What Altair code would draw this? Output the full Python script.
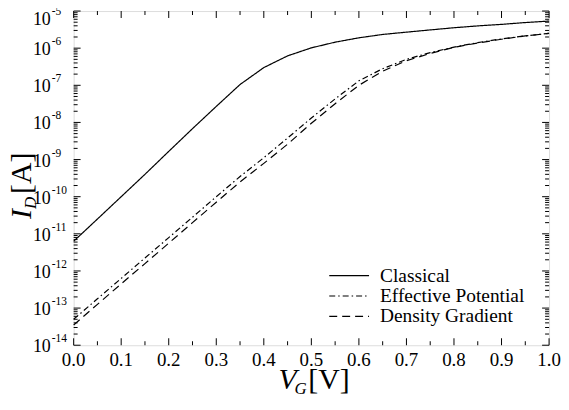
import altair as alt
import pandas as pd

# ---------------- data ----------------
V_G = [0.00, 0.05, 0.10, 0.15, 0.20, 0.25, 0.30, 0.35, 0.40, 0.45, 0.50,
       0.55, 0.60, 0.65, 0.70, 0.75, 0.80, 0.85, 0.90, 0.95, 1.00]

classical = [6.3e-12, 2.5e-11, 1.0e-10, 4.0e-10, 1.66e-9, 6.8e-9, 2.7e-8,
             1.05e-7, 3.0e-7, 6.2e-7, 1.02e-6, 1.45e-6, 1.9e-6, 2.34e-6,
             2.7e-6, 3.1e-6, 3.55e-6, 3.98e-6, 4.37e-6, 4.9e-6, 5.37e-6]

effective_potential = [5.0e-14, 1.78e-13, 6.3e-13, 2.24e-12, 7.9e-12, 2.8e-11,
                       1.0e-10, 3.5e-10, 1.12e-9, 3.8e-9, 1.32e-8, 4.3e-8,
                       1.32e-7, 2.8e-7, 5.0e-7, 7.6e-7, 1.07e-6, 1.41e-6,
                       1.78e-6, 2.14e-6, 2.5e-6]

density_gradient = [3.5e-14, 1.26e-13, 4.5e-13, 1.58e-12, 5.6e-12, 2.0e-11,
                    7.1e-11, 2.5e-10, 7.9e-10, 2.6e-9, 9.5e-9, 3.2e-8,
                    1.0e-7, 2.4e-7, 4.6e-7, 7.2e-7, 1.05e-6, 1.38e-6,
                    1.74e-6, 2.14e-6, 2.5e-6]

series_names = ["Classical", "Effective Potential", "Density Gradient"]

x_major = [0.0, 0.1, 0.2, 0.3, 0.4, 0.5, 0.6, 0.7, 0.8, 0.9, 1.0]
x_labels = ["0.0", "0.1", "0.2", "0.3", "0.4", "0.5", "0.6", "0.7", "0.8", "0.9", "1.0"]
x_minor = [0.05, 0.15, 0.25, 0.35, 0.45, 0.55, 0.65, 0.75, 0.85, 0.95]
y_decades = [1e-14, 1e-13, 1e-12, 1e-11, 1e-10, 1e-9, 1e-8, 1e-7, 1e-6, 1e-5]
y_exponents = ["-14", "-13", "-12", "-11", "-10", "-9", "-8", "-7", "-6", "-5"]
y_minor = [k * d for d in y_decades[:-1] for k in range(2, 10)]

# ---------------- layout / style ----------------
W, H = 478, 336
FONT = "Liberation Serif"

rows = []
for name, vals in zip(series_names, [classical, effective_potential, density_gradient]):
    for v, i in zip(V_G, vals):
        rows.append({"V": v, "I": i, "series": name})
df = pd.DataFrame(rows)

xs = alt.Scale(domain=[0, 1], nice=False, zero=False)
ys = alt.Scale(type="log", domain=[1e-14, 1e-5], nice=False)

lines = alt.Chart(df).mark_line(color="black", strokeWidth=1.2).encode(
    x=alt.X("V:Q", scale=xs, axis=None),
    y=alt.Y("I:Q", scale=ys, axis=None),
    strokeDash=alt.StrokeDash(
        "series:N",
        scale=alt.Scale(domain=series_names, range=[[1, 0], [6, 3, 1.5, 3], [8, 5]]),
        legend=alt.Legend(
            title=None, orient="none", legendX=256, legendY=256,
            symbolType="stroke", symbolSize=1600, symbolStrokeWidth=1.2,
            symbolStrokeColor="black", labelFont=FONT, labelFontSize=19.5,
            labelColor="black", labelOffset=10, clipHeight=20, rowPadding=0.5,
            padding=0)),
)


def yticks(vals, x0, x1):
    return alt.Chart(pd.DataFrame({"v": vals})).mark_rule(
        color="black", strokeWidth=1).encode(
        y=alt.Y("v:Q", scale=ys, axis=None), x=alt.value(x0), x2=alt.value(x1))


def xticks(vals, y0, y1):
    return alt.Chart(pd.DataFrame({"v": vals})).mark_rule(
        color="black", strokeWidth=1).encode(
        x=alt.X("v:Q", scale=xs, axis=None), y=alt.value(y0), y2=alt.value(y1))


tick_layers = [
    yticks(y_decades, 0, 7), yticks(y_minor, 0, 4),
    yticks(y_decades, W - 7, W), yticks(y_minor, W - 4, W),
    xticks(x_major, H, H - 7), xticks(x_minor, H, H - 4),
    xticks(x_major, 0, 7), xticks(x_minor, 0, 4),
]

x_tick_labels = alt.Chart(pd.DataFrame({"v": x_major, "t": x_labels})).mark_text(
    align="center", baseline="alphabetic", font=FONT, fontSize=19, color="black"
).encode(x=alt.X("v:Q", scale=xs, axis=None), y=alt.value(H + 21), text="t:N")


def y_labels(vals, exps, shift):
    tens = alt.Chart(pd.DataFrame({"v": vals})).mark_text(
        align="right", baseline="middle", font=FONT, fontSize=18, dy=2 + shift,
        color="black", text="10"
    ).encode(y=alt.Y("v:Q", scale=ys, axis=None), x=alt.value(-23))
    sup = alt.Chart(pd.DataFrame({"v": vals, "e": exps})).mark_text(
        align="left", baseline="middle", font=FONT, fontSize=11.5, dy=-6 + shift,
        color="black"
    ).encode(y=alt.Y("v:Q", scale=ys, axis=None), x=alt.value(-22), text="e:N")
    return [tens, sup]


# the topmost label sits a little lower so that it stays inside the figure
y_label_layers = y_labels(y_decades[:-1], y_exponents[:-1], 0) + \
    y_labels(y_decades[-1:], y_exponents[-1:], 7)


def label(txt, x, y, size, italic=False, angle=0):
    return alt.Chart().mark_text(
        text=txt, align="left", baseline="alphabetic", font=FONT, fontSize=size,
        fontStyle="italic" if italic else "normal", angle=angle, color="black"
    ).encode(x=alt.value(x), y=alt.value(y))


titles = [
    label("V", 206, 380, 30, italic=True),
    label("G", 222, 385, 17, italic=True),
    label("[V]", 236, 380, 30),
    label("I", -43, 209, 30, italic=True, angle=270),
    label("D", -38, 199, 17, italic=True, angle=270),
    label("[A]", -43, 184, 30, angle=270),
]

chart = alt.layer(lines, *tick_layers, x_tick_labels, *y_label_layers,
                  *titles).properties(
    width=W, height=H,
    autosize=alt.AutoSizeParams(type="none"),
    padding={"left": 66, "top": 2, "right": 12, "bottom": 50},
).configure_view(stroke="black", strokeWidth=1.5).configure(background="white")

chart.save("out.html", embed_options={"renderer": "svg", "actions": False})
